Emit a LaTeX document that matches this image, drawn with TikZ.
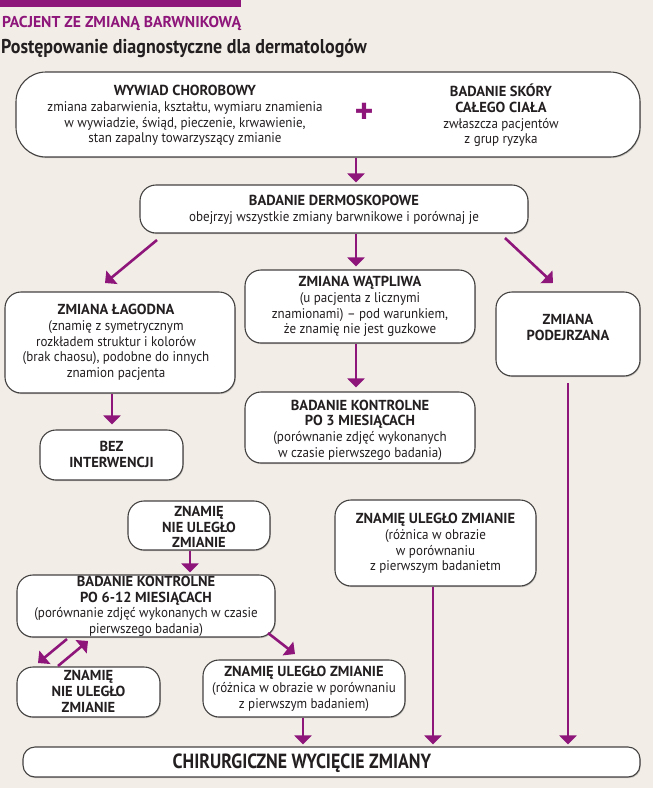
\documentclass[tikz,border=0pt]{standalone}
\usepackage{fontspec}
\setmainfont{PT Sans}[FakeStretch=0.93]
\newfontfamily\bfam{PT Sans}
\newfontfamily\headfont{PT Sans}[FakeStretch=0.9]
\newfontfamily\chirfont{PT Sans}[FakeStretch=0.87]
\newcommand\hb[1]{{\bfam\bfseries\fontsize{14.5}{15.7}\selectfont #1}}
\usetikzlibrary{arrows.meta,shadows}
\definecolor{bgc}{RGB}{242,238,231}
\definecolor{plum}{RGB}{142,22,122}
\definecolor{ink}{RGB}{35,31,32}
\tikzset{
  box/.style={draw=ink!85, line width=1.1pt, fill=white, rounded corners=16pt, inner sep=0pt,
    drop shadow={shadow xshift=0.8pt, shadow yshift=-1.2pt, opacity=0.4}},
  txt/.style={align=center, text=ink, font=\fontsize{14}{15.7}\selectfont, inner sep=0pt},
  arr/.style={draw=plum, line width=2.6pt, -{Triangle[width=17pt,length=9pt]}},
}
\begin{document}
\begin{tikzpicture}[x=1pt,y=-1pt]
\fill[bgc] (0,0) rectangle (653,788);
\useasboundingbox (0,0) rectangle (653,788);
% header
\fill[plum] (0,0) rectangle (241,7);
\node[anchor=base west, inner sep=0pt, text=plum, font=\bfam\fontsize{15.7}{15.7}\selectfont\bfseries] (hdr) at (2,27) {PACJENT ZE ZMIANĄ BARWNIKOWĄ};
\node[anchor=base west, inner sep=0pt, text=ink, font=\headfont\fontsize{20}{20}\selectfont\bfseries] (ttl) at (1,53.5) {Postępowanie diagnostyczne dla dermatologów};

% boxes
\node[box, minimum width=624, minimum height=85, rounded corners=30pt] (b1) at (328,114.5) {};
\node[txt] (t1a) at (185,115.5) {\hb{WYWIAD CHOROBOWY}\\zmiana zabarwienia, kształtu, wymiaru znamienia\\w wywiadzie, świąd, pieczenie, krwawienie,\\stan zapalny towarzyszący zmianie};
\node[txt] (t1b) at (501,115.5) {\hb{BADANIE SKÓRY}\\\hb{CAŁEGO CIAŁA}\\zwłaszcza pacjentów\\z grup ryzyka};
\node[inner sep=0pt, text=plum, font=\bfam\fontsize{36}{36}\selectfont\bfseries] (plus) at (364,113) {+};

\node[box, minimum width=388, minimum height=48] (b2) at (334,209) {};
\node[txt] (t2) at (334,210) {\hb{BADANIE DERMOSKOPOWE}\\obejrzyj wszystkie zmiany barwnikowe i porównaj je};

\node[box, minimum width=230, minimum height=101] (lag) at (120,342.5) {};
\node[txt] (tlag) at (116,342.5) {\hb{ZMIANA ŁAGODNA}\\(znamię z symetrycznym\\rozkładem struktur i kolorów\\(brak chaosu), podobne do innych\\znamion pacjenta};

\node[box, minimum width=143, minimum height=50] (bez) at (111.5,455) {};
\node[txt] (tbez) at (111.5,454.5) {\hb{BEZ}\\\hb{INTERWENCJI}};

\node[box, minimum width=230, minimum height=73] (wat) at (360,306.5) {};
\node[txt] (twat) at (360,306.5) {\hb{ZMIANA WĄTPLIWA}\\(u pacjenta z licznymi\\znamionami) -- pod warunkiem,\\że znamię nie jest guzkowe};

\node[box, minimum width=230, minimum height=71] (k3) at (360,427.5) {};
\node[txt] (tk3) at (360,430) {\hb{BADANIE KONTROLNE}\\\hb{PO 3 MIESIĄCACH}\\(porównanie zdjęć wykonanych\\w czasie pierwszego badania)};

\node[box, minimum width=144, minimum height=84] (pod) at (568,334) {};
\node[txt] (tpod) at (568,327.5) {\hb{ZMIANA}\\\hb{PODEJRZANA}};

\node[box, minimum width=142, minimum height=49] (zn1) at (199,525.5) {};
\node[txt] (tzn1) at (199,527) {\hb{ZNAMIĘ}\\\hb{NIE ULEGŁO}\\\hb{ZMIANIE}};

\node[box, minimum width=258, minimum height=62] (k6) at (146,606) {};
\node[txt] (tk6) at (146,606.5) {\hb{BADANIE KONTROLNE}\\\hb{PO 6-12 MIESIĄCACH}\\(porównanie zdjęć wykonanych w czasie\\pierwszego badania)};

\node[box, minimum width=143, minimum height=50] (zn2) at (88.5,692) {};
\node[txt] (tzn2) at (88.5,691.5) {\hb{ZNAMIĘ}\\\hb{NIE ULEGŁO}\\\hb{ZMIANIE}};

\node[box, minimum width=202, minimum height=57] (ul1) at (304,688.5) {};
\node[txt] (tul1) at (304,689) {\hb{ZNAMIĘ ULEGŁO ZMIANIE}\\(różnica w obrazie w porównaniu\\z pierwszym badaniem)};

\node[box, minimum width=201, minimum height=86] (ul2) at (435.5,543) {};
\node[txt] (tul2) at (435.5,543.5) {\hb{ZNAMIĘ ULEGŁO ZMIANIE}\\(różnica w obrazie\\w porównaniu\\z pierwszym badanietm};

\node[box, minimum width=617, minimum height=30, rounded corners=12pt] (chir) at (331.5,762) {};
\node[inner sep=0pt, text=ink, font=\chirfont\fontsize{20.5}{20.5}\selectfont\bfseries] (tchir) at (302,763) {CHIRURGICZNE WYCIĘCIE ZMIANY};

% column coordinates
\coordinate (cm) at (356,0);
\coordinate (cl) at (112,0);
\coordinate (cr) at (568,0);
\coordinate (cz) at (190,0);
\coordinate (cu) at (303,0);
\coordinate (cv) at (433,0);
\coordinate (dL0) at (157,240); \coordinate (dL1) at (105,283);
\coordinate (dR0) at (505,238); \coordinate (dR1) at (553,283);
\coordinate (pA0) at (67,639);  \coordinate (pA1) at (38,663);
\coordinate (pB0) at (58,666);  \coordinate (pB1) at (88,641);
\coordinate (pC0) at (268,633); \coordinate (pC1) at (295,654);
\coordinate (pr0) at (568,383);

% connectors
\draw[arr, shorten >=2pt] (b1.south -| cm) -- (b2.north -| cm);
\draw[arr, shorten >=3pt] (b2.south -| cm) -- (wat.north -| cm);
\draw[arr] (dL0) -- (dL1);
\draw[arr] (dR0) -- (dR1);
\draw[arr, shorten >=4pt] (wat.south -| cm) -- (k3.north -| cm);
\draw[arr, shorten >=5pt] (lag.south -| cl) -- (bez.north -| cl);
\draw[arr, shorten >=2pt] (pr0) -- (chir.north -| cr);
\draw[arr, shorten >=2pt] (zn1.south -| cz) -- (k6.north -| cz);
\draw[arr] (pA0) -- (pA1);
\draw[arr] (pB0) -- (pB1);
\draw[arr] (pC0) -- (pC1);
\draw[arr, shorten >=2pt] (ul1.south -| cu) -- (chir.north -| cu);
\draw[arr, shorten >=2pt] (ul2.south -| cv) -- (chir.north -| cv);
\end{tikzpicture}
\end{document}
